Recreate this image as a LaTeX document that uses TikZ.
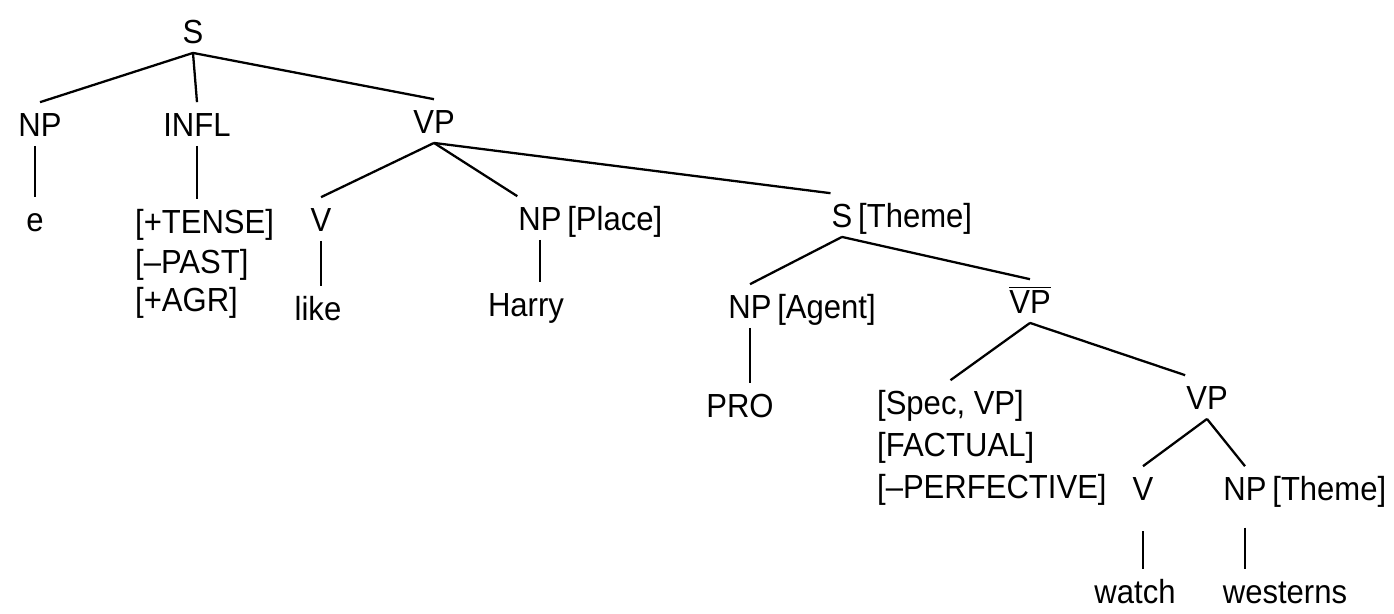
\documentclass[tikz,border=0pt]{standalone}
\usepackage{fontspec}
\setmainfont[FakeStretch=0.93]{Liberation Sans}
\begin{document}
\begin{tikzpicture}[x=0.02cm, y=-0.02cm, line width=1.3pt,
    cat/.style={font=\fontsize{19}{23}\selectfont, inner xsep=0pt, inner ysep=5pt,
      text height=13.6pt, text depth=0pt, anchor=base},
    feat/.style={cat, anchor=base west},
    tag/.style={cat, anchor=base west, xshift=2pt}]
    \useasboundingbox (0,0) rectangle (1394,613);
    \node[cat] (s) at (193,43) {S};
    \node[cat] (np) at (40,136) {NP};
    \node[cat] (infl) at (197,136) {INFL};
    \node[cat] (vp) at (434,133) {VP};
    \node[cat] (e) at (35,231) {e};
    \node[feat] (tense) at (134,233) {[+TENSE]};
    \node[feat] (past) at (134,273) {[--PAST]};
    \node[feat] (agr) at (134,311) {[+AGR]};
    \node[cat] (v) at (321,231) {V};
    \node[cat] (like) at (318,320) {like};
    \node[cat] (npplace) at (540,230) {NP};
    \node[tag] (place) at (npplace.base east) {[Place]};
    \node[cat] (harry) at (526,316) {Harry};
    \node[cat] (stheme) at (842,227) {S};
    \node[tag] (theme) at (stheme.base east) {[Theme]};
    \node[cat] (npagent) at (750,318) {NP};
    \node[tag] (agent) at (npagent.base east) {[Agent]};
    \node[cat] (vbar) at (1030,313) {$\overline{\hbox{VP}}$};
    \node[cat] (pro) at (740,417) {PRO};
    \node[feat] (spec) at (876,414) {[Spec, VP]};
    \node[feat] (fact) at (876,456) {[FACTUAL]};
    \node[feat] (perf) at (876,498) {[--PERFECTIVE]};
    \node[cat] (vplow) at (1207,409) {VP};
    \node[cat] (vlow) at (1143,500) {V};
    \node[cat] (nptheme) at (1245,500) {NP};
    \node[tag] (theme2) at (nptheme.base east) {[Theme]};
    \node[cat] (watch) at (1135,603) {watch};
    \node[cat] (westerns) at (1285,603) {westerns};
    \draw (s.south) -- (np.north);
    \draw (s.south) -- (infl.north);
    \draw (s.south) -- (vp.north);
    \draw (e.north |- np.south) -- (e.north);
    \draw (infl.south) -- (infl.south |- tense.north);
    \draw (vp.south) -- (v.north);
    \draw (vp.south) -- (npplace.north west);
    \draw (vp.south) -- (stheme.north west);
    \draw (v.south) -- (v.south |- like.north);
    \draw (npplace.south) -- (npplace.south |- harry.north);
    \draw (stheme.south) -- (npagent.north);
    \draw (stheme.south) -- (vbar.north);
    \draw (npagent.south) -- (npagent.south |- pro.north);
    \draw (vbar.south) -- (spec.north);
    \draw (vbar.south) -- (vplow.north west);
    \draw (vplow.south) -- (vlow.north);
    \draw (vplow.south) -- (nptheme.north);
    \draw[shorten <=12pt] (vlow.south) -- (vlow.south |- watch.north);
    \draw[shorten <=10pt] (nptheme.south) -- (nptheme.south |- westerns.north);
\end{tikzpicture}
\end{document}
